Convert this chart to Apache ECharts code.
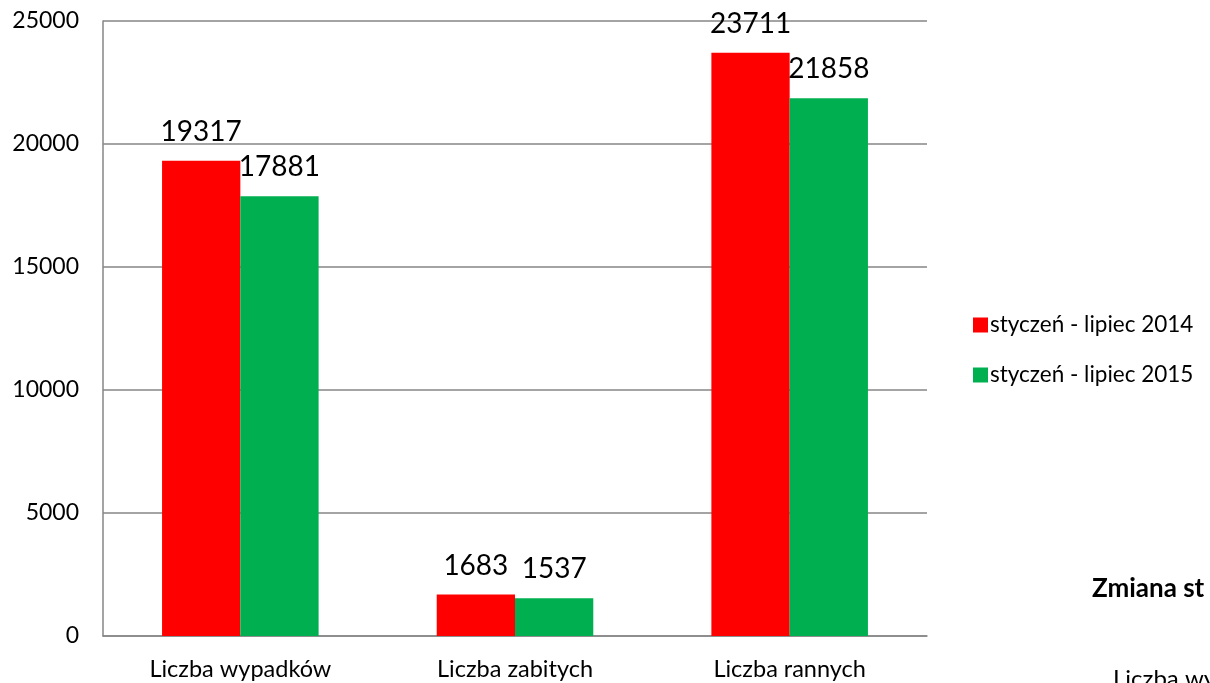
<!DOCTYPE html>
<html>
<head>
<meta charset="utf-8">
<style>
  html, body { margin: 0; padding: 0; background: #fff; }
  #chart { width: 1210px; height: 683px; }
</style>
<script src="https://cdn.jsdelivr.net/npm/echarts@6/dist/echarts.min.js"></script>
</head>
<body>
<div id="chart"></div>
<script>
// Road accident statistics, January–July 2014 vs 2015
const categories = ['Liczba wypadków', 'Liczba zabitych', 'Liczba rannych'];
const seriesNames = ['styczeń - lipiec 2014', 'styczeń - lipiec 2015'];
const values2014 = [19317, 1683, 23711];
const values2015 = [17881, 1537, 21858];
const axisTicks = [0, 5000, 10000, 15000, 20000, 25000];

const font = 'Lato, "Open Sans", sans-serif';
const chart = echarts.init(document.getElementById('chart'));

const labelStyle = {
  show: true,
  position: 'top',
  distance: 15,
  color: '#000',
  fontSize: 28,
  fontFamily: font
};

chart.setOption({
  animation: false,
  textStyle: { fontFamily: font },
  grid: { left: 103, right: 283, top: 21, bottom: 47, containLabel: false },
  legend: {
    orient: 'vertical',
    left: 968,
    top: 307,
    itemWidth: 15,
    itemHeight: 15,
    itemGap: 24,
    icon: 'rect',
    textStyle: { fontSize: 22.5, color: '#000', fontFamily: font, lineHeight: 26, padding: [0, 0, 0, -3] },
    data: seriesNames
  },
  xAxis: {
    type: 'category',
    data: categories,
    axisLine: { lineStyle: { color: '#868686', width: 1.5 } },
    axisTick: { show: false },
    axisLabel: { color: '#000', fontSize: 23.5, margin: 21, fontFamily: font }
  },
  yAxis: {
    type: 'value',
    min: axisTicks[0],
    max: axisTicks[axisTicks.length - 1],
    interval: axisTicks[1] - axisTicks[0],
    axisLine: { show: true, lineStyle: { color: '#868686', width: 1.5 } },
    axisTick: { show: false },
    splitLine: { lineStyle: { color: '#868686', width: 1.5 } },
    axisLabel: {
      color: '#000', fontSize: 23, margin: 24, fontFamily: font,
      formatter: v => String(v)
    }
  },
  series: [
    {
      name: seriesNames[0],
      type: 'bar',
      data: values2014,
      barGap: '0%',
      barCategoryGap: '43%',
      itemStyle: { color: '#ff0000' },
      label: labelStyle
    },
    {
      name: seriesNames[1],
      type: 'bar',
      data: values2015,
      barGap: '0%',
      barCategoryGap: '43%',
      itemStyle: { color: '#00b050' },
      label: labelStyle
    }
  ],
  graphic: [
    {
      type: 'text',
      left: 1092,
      top: 576,
      style: { text: 'Zmiana st', fontSize: 26, fontWeight: 'bold', fill: '#000', fontFamily: font }
    },
    {
      type: 'text',
      left: 1113,
      top: 667,
      style: { text: 'Liczba wy', fontSize: 24, fill: '#000', fontFamily: font }
    }
  ]
});
</script>
</body>
</html>
